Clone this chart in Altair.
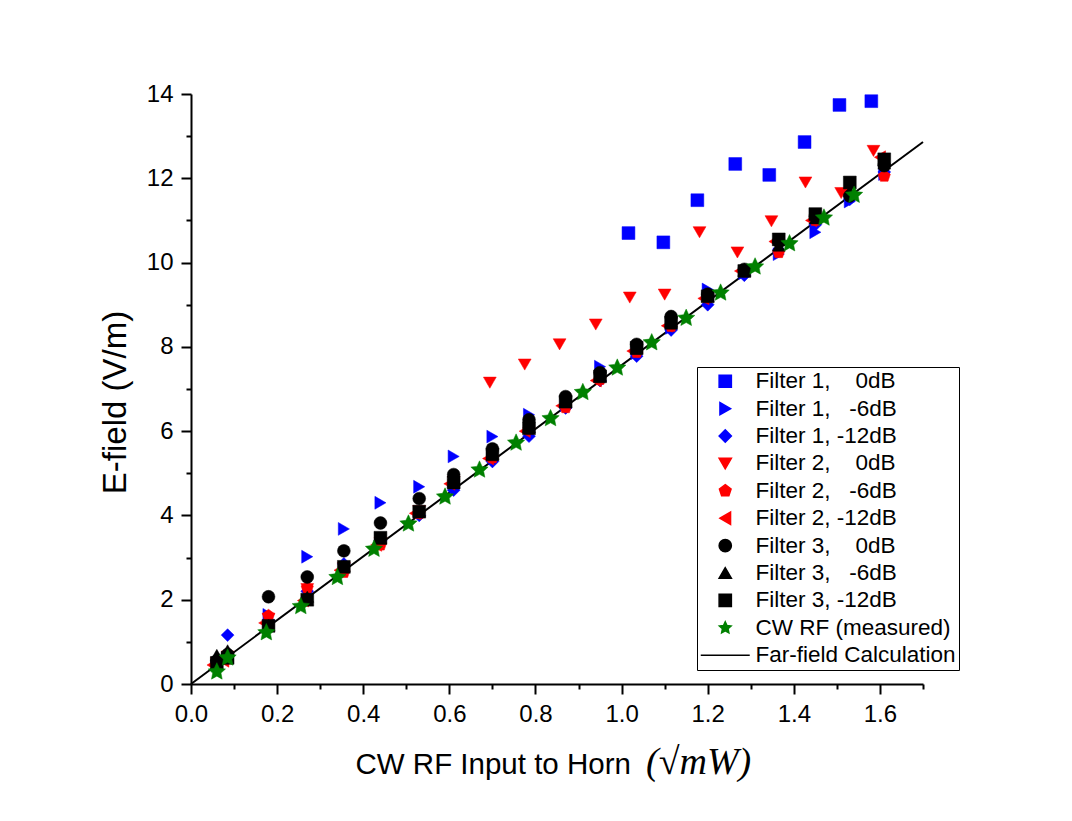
import math
import altair as alt
import pandas as pd

# ---------------- data ----------------
names = [
    "Filter 1,\u00a0\u00a0\u00a0\u00a00dB",
    "Filter 1,\u00a0\u00a0\u00a0-6dB",
    "Filter 1, -12dB",
    "Filter 2,\u00a0\u00a0\u00a0\u00a00dB",
    "Filter 2,\u00a0\u00a0\u00a0-6dB",
    "Filter 2, -12dB",
    "Filter 3,\u00a0\u00a0\u00a0\u00a00dB",
    "Filter 3,\u00a0\u00a0\u00a0-6dB",
    "Filter 3, -12dB",
    "CW RF (measured)",
    "Far-field Calculation",
]
colors = ["#0000FF", "#0000FF", "#0000FF", "#FF0000", "#FF0000", "#FF0000",
          "#000000", "#000000", "#000000", "#008000", "#000000"]

f1_0_x = [1.016, 1.097, 1.176, 1.264, 1.343, 1.425, 1.506, 1.580]
f1_0_y = [10.70, 10.48, 11.48, 12.34, 12.08, 12.86, 13.74, 13.83]

f1_6_x = [0.085, 0.18, 0.27, 0.355, 0.44, 0.53, 0.61, 0.70, 0.785, 0.87, 0.95,
          1.035, 1.115, 1.20, 1.285, 1.365, 1.45, 1.53, 1.61]
f1_6_y = [0.62, 1.64, 3.02, 3.68, 4.30, 4.68, 5.40, 5.87, 6.39, 6.62, 7.53,
          7.85, 8.45, 9.36, 9.75, 10.20, 10.72, 11.45, 12.10]

f1_12_x = [0.06, 0.085, 0.18, 0.27, 0.355, 0.44, 0.53, 0.61, 0.70, 0.785, 0.87, 0.95,
           1.035, 1.115, 1.20, 1.285, 1.365, 1.45, 1.53, 1.61]
f1_12_y = [0.50, 1.16, 1.50, 2.20, 2.85, 3.40, 4.00, 4.60, 5.28, 5.88, 6.55, 7.20,
           7.78, 8.40, 9.00, 9.70, 10.30, 10.90, 11.50, 12.15]

f2_0_x = [0.06, 0.085, 0.18, 0.27, 0.355, 0.44, 0.53, 0.61, 0.694, 0.775, 0.856, 0.94,
          1.019, 1.10, 1.181, 1.269, 1.348, 1.427, 1.51, 1.585]
f2_0_y = [0.50, 0.65, 1.55, 2.25, 2.75, 3.35, 4.10, 4.80, 7.15, 7.58, 8.06, 8.53,
          9.17, 9.24, 10.72, 10.24, 10.98, 11.90, 11.65, 12.65]

f2_6_x = [0.06, 0.085, 0.18, 0.27, 0.355, 0.44, 0.53, 0.61, 0.70, 0.785, 0.87, 0.95,
          1.035, 1.115, 1.20, 1.285, 1.365, 1.45, 1.53, 1.61]
f2_6_y = [0.50, 0.60, 1.62, 2.28, 2.65, 3.30, 4.05, 4.80, 5.37, 6.05, 6.56, 7.23,
          7.87, 8.49, 9.17, 9.80, 10.24, 11.00, 11.60, 12.05]

f2_12_x = [0.05, 0.075, 0.17, 0.26, 0.345, 0.43, 0.52, 0.60, 0.69, 0.775, 0.86, 0.94,
           1.025, 1.105, 1.19, 1.275, 1.355, 1.44, 1.52, 1.60]
f2_12_y = [0.45, 0.55, 1.45, 1.98, 2.70, 3.30, 4.05, 4.75, 5.35, 6.00, 6.60, 7.20,
           7.90, 8.50, 9.15, 9.80, 10.50, 11.00, 11.65, 12.50]

f3_0_x = [0.06, 0.085, 0.18, 0.27, 0.355, 0.44, 0.53, 0.61, 0.70, 0.785, 0.87, 0.95,
          1.035, 1.115, 1.20, 1.285, 1.365, 1.45, 1.53, 1.61]
f3_0_y = [0.55, 0.70, 2.07, 2.54, 3.16, 3.82, 4.40, 4.97, 5.58, 6.27, 6.82, 7.39,
          8.06, 8.72, 9.25, 9.84, 10.50, 11.10, 11.58, 12.30]

f3_6_x = [0.06, 0.085, 0.18, 0.27, 0.355, 0.44, 0.53, 0.61, 0.70, 0.785, 0.87, 0.95,
          1.035, 1.115, 1.20, 1.285, 1.365, 1.45, 1.53, 1.61]
f3_6_y = [0.69, 0.80, 1.40, 2.07, 2.80, 3.45, 4.10, 4.80, 5.46, 6.10, 6.70, 7.30,
          7.95, 8.60, 9.20, 9.80, 10.40, 11.05, 11.70, 12.35]

f3_12_x = [0.06, 0.085, 0.18, 0.27, 0.355, 0.44, 0.53, 0.61, 0.70, 0.785, 0.87, 0.95,
           1.035, 1.115, 1.20, 1.285, 1.365, 1.45, 1.53, 1.61]
f3_12_y = [0.50, 0.62, 1.38, 2.00, 2.78, 3.47, 4.09, 4.78, 5.45, 6.07, 6.70, 7.30,
           7.98, 8.57, 9.20, 9.80, 10.55, 11.15, 11.90, 12.45]

cw_x = [0.06, 0.085, 0.175, 0.255, 0.34, 0.425, 0.505, 0.59, 0.67, 0.755, 0.835, 0.91,
        0.99, 1.07, 1.15, 1.23, 1.31, 1.39, 1.47, 1.54]
cw_y = [0.29, 0.62, 1.22, 1.84, 2.53, 3.20, 3.80, 4.44, 5.08, 5.72, 6.30, 6.92,
        7.50, 8.10, 8.68, 9.28, 9.90, 10.45, 11.06, 11.60]

ff_x = [0.0, 1.7]
ff_y = [0.0, 12.86]

x_ticks = [round(i * 0.1, 1) for i in range(18)]
y_ticks = list(range(15))

x_title = "CW RF Input to Horn"
x_title_math = ["(\u221amW)"]

# ---------------- marker shapes ----------------
def poly_path(n, r_out, r_in=None):
    pts = []
    k = n * 2 if r_in is not None else n
    for i in range(k):
        ang = -math.pi / 2 + i * math.pi * 2 / k
        r = r_out if (r_in is None or i % 2 == 0) else r_in
        pts.append((r * math.cos(ang), r * math.sin(ang)))
    return "M" + "L".join(f"{px:.3f},{py:.3f}" for px, py in pts) + "Z"

pentagon = poly_path(5, 1.0)
star = poly_path(5, 1.0, 0.48)
line_sym = "M-4,0L4,0"
shapes = ["square", "triangle-right", "diamond", "triangle-down", pentagon,
          "triangle-left", "circle", "triangle-up", "square", star, line_sym]

series = [
    (f1_0_x, f1_0_y), (f1_6_x, f1_6_y), (f1_12_x, f1_12_y),
    (f2_0_x, f2_0_y), (f2_6_x, f2_6_y), (f2_12_x, f2_12_y),
    (f3_0_x, f3_0_y), (f3_6_x, f3_6_y), (f3_12_x, f3_12_y),
    (cw_x, cw_y),
]
rows = []
for k, (xs, ys) in enumerate(series):
    for xv, yv in zip(xs, ys):
        rows.append({"x": xv, "y": yv, "series": names[k], "ord": k,
                     "sz": 330 if k == 9 else 165})
pts = pd.DataFrame(rows)
ff = pd.DataFrame({"x": ff_x, "y": ff_y})

FONT = "Liberation Sans, Arial, sans-serif"
W, H = 732, 590
LBL = {"condition": {"test": "true", "value": 24}, "value": 24}

x_axis = alt.Axis(
    values=x_ticks,
    labelExpr="round(datum.value*10) % 2 == 0 ? format(datum.value, '.1f') : ''",
    tickSize={"condition": {"test": "round(datum.value*10) % 2 == 0", "value": 10}, "value": 5},
    title=x_title,
    titleFontSize=29.5,
    titleX=164, titleY=89, titleAlign="left", titleBaseline="alphabetic",
    labelPadding=8, labelFontSize=LBL, labelFlush=False, labelOverlap=False,
)
y_axis = alt.Axis(
    values=y_ticks,
    labelExpr="datum.value % 2 == 0 ? format(datum.value, 'd') : ''",
    tickSize={"condition": {"test": "datum.value % 2 == 0", "value": 10}, "value": 5},
    title="E-field (V/m)",
    titleFontSize=33, titleAngle=-90,
    titleX=-66, titleY=308, titleAlign="center", titleBaseline="alphabetic",
    labelPadding=8, labelFontSize=LBL, labelFlush=False, labelOverlap=False,
)
xs_ = alt.Scale(domain=[0, 1.7], nice=False, zero=False)
ys_ = alt.Scale(domain=[0, 14], nice=False, zero=False)

legend = alt.Legend(
    orient="none", legendX=506, legendY=273, title=None,
    strokeColor="black", fillColor="white", padding=3,
    symbolSize=150, symbolStrokeWidth=1.5,
    labelFontSize=22.5, labelFont=FONT, labelColor="black",
    rowPadding=4.4, labelOffset=19, symbolOffset=14,
    labelLimit=400,
)

line = alt.Chart(ff).mark_line(color="black", strokeWidth=2).encode(
    x=alt.X("x:Q", scale=xs_, axis=x_axis),
    y=alt.Y("y:Q", scale=ys_, axis=y_axis),
)

points = alt.Chart(pts).mark_point(filled=True, opacity=1, strokeWidth=0.5).encode(
    x=alt.X("x:Q", scale=xs_, axis=x_axis),
    y=alt.Y("y:Q", scale=ys_, axis=y_axis),
    fill=alt.Fill("series:N", scale=alt.Scale(domain=names, range=colors), legend=legend),
    stroke=alt.Stroke("series:N", scale=alt.Scale(domain=names, range=colors), legend=legend),
    shape=alt.Shape("series:N", scale=alt.Scale(domain=names, range=shapes), legend=legend),
    size=alt.Size("sz:Q", scale=None, legend=None),
    order=alt.Order("ord:Q"),
)

math_title = alt.Chart(pd.DataFrame({"t": x_title_math})).mark_text(
    font="Liberation Serif, DejaVu Serif, serif", fontStyle="italic", fontSize=38,
    align="left", baseline="alphabetic", color="black",
).encode(text="t:N", x=alt.value(455), y=alt.value(H + 90))

chart = alt.layer(line, points, math_title).properties(
    width=W, height=H,
    autosize=alt.AutoSizeParams(type="none"),
    padding={"left": 183, "top": 86, "right": 140, "bottom": 129},
    background="white",
).configure_view(stroke=None).configure_axis(
    grid=False, domainColor="black", domainWidth=2, tickColor="black", tickWidth=2,
    labelFont=FONT, labelColor="black",
    titleFont=FONT, titleFontWeight="normal", titleColor="black",
)

chart.save("out.html", embed_options={"renderer": "svg", "actions": False})
